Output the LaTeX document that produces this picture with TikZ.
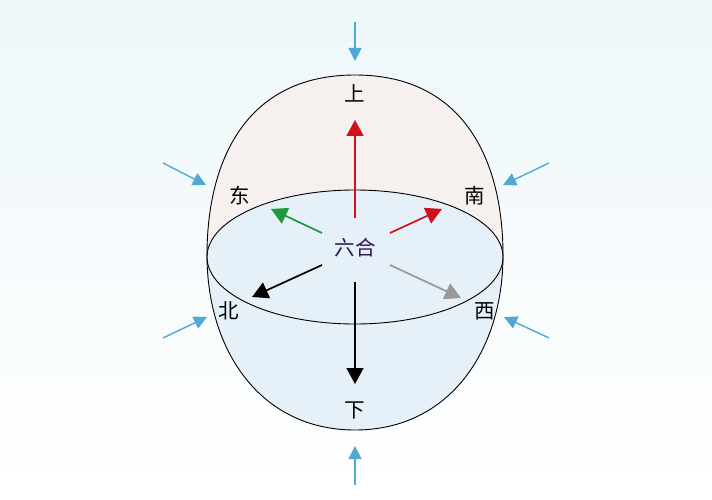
\documentclass[tikz,border=0pt]{standalone}
\usepackage{fontspec}
\newfontfamily\cjk{Noto Sans CJK SC}
\usetikzlibrary{arrows.meta}
\definecolor{bgtop}{HTML}{EDF7FA}
\definecolor{capfill}{HTML}{F6F1EF}
\definecolor{bowlfill}{HTML}{E5F0F8}
\definecolor{dirred}{HTML}{D0101A}
\definecolor{dirgreen}{HTML}{1E9A3A}
\definecolor{dirgray}{HTML}{999999}
\definecolor{pushblue}{HTML}{4FA9D2}
\definecolor{hexcol}{HTML}{2A1850}
\begin{document}
\begin{tikzpicture}[x=1pt, y=-1pt,
  label/.style={font=\cjk\fontsize{20.5}{21}\selectfont, inner sep=0pt},
  dirarrow/.style={line width=1.7pt, -{Triangle[width=17pt,length=16pt]}},
  pusharrow/.style={pushblue, line width=1.4pt, -{Triangle[width=13pt,length=13pt]}}]
% Background
\shade[top color=bgtop, bottom color=white] (0,0) rectangle (712,500);
\useasboundingbox (0,0) rectangle (712,500);

% Upper cap and lower bowl
\def\capline{(207,255) .. controls (207,165) and (243,75) .. (355,75)
  .. controls (467,75) and (503,165) .. (503,255)}
\def\bowlline{(207,255) .. controls (207,350) and (260,430) .. (355,430)
  .. controls (450,430) and (503,350) .. (503,255)}
\fill[capfill] \capline -- cycle;
\fill[bowlfill] \bowlline -- cycle;
\fill[bowlfill] (355,257) ellipse[x radius=148, y radius=67];
\draw[line width=0.9pt] \capline;
\draw[line width=0.9pt] \bowlline;
\draw[line width=0.9pt] (355,257) ellipse[x radius=148, y radius=67];

% Labels
\node[label, text=hexcol] (center) at (355,248) {六合};
\node[label] (up) at (355,93) {上};
\node[label] (down) at (355,410) {下};
\node[label] (east) at (240,196) {东};
\node[label] (south) at (475,196) {南};
\node[label] (north) at (229,311) {北};
\node[label] (west) at (485,311) {西};

% Direction arrows
\coordinate (upS) at (355,218);   \coordinate (upE) at (355,120);
\coordinate (downS) at (355,282); \coordinate (downE) at (355,384);
\coordinate (eastS) at (322,233); \coordinate (eastE) at (271,209);
\coordinate (southS) at (390,233); \coordinate (southE) at (442,209);
\coordinate (northS) at (322,265); \coordinate (northE) at (252,297);
\coordinate (westS) at (390,265); \coordinate (westE) at (461,298);
\draw[dirarrow, dirred] (upS) -- (upE);
\draw[dirarrow, black] (downS) -- (downE);
\draw[dirarrow, dirgreen] (eastS) -- (eastE);
\draw[dirarrow, dirred] (southS) -- (southE);
\draw[dirarrow, black] (northS) -- (northE);
\draw[dirarrow, dirgray] (westS) -- (westE);

% Outside pressure arrows
\coordinate (topA) at (355,22);    \coordinate (topB) at (355,61);
\coordinate (botA) at (355,485);   \coordinate (botB) at (355,446);
\coordinate (luA) at (163,163);    \coordinate (luB) at (206,185);
\coordinate (ruA) at (549,163);    \coordinate (ruB) at (503,185);
\coordinate (llA) at (163,338);    \coordinate (llB) at (207,317);
\coordinate (rlA) at (549,338);    \coordinate (rlB) at (504,317);
\foreach \a/\b in {topA/topB, botA/botB, luA/luB, ruA/ruB, llA/llB, rlA/rlB}
  \draw[pusharrow] (\a) -- (\b);
\end{tikzpicture}
\end{document}
